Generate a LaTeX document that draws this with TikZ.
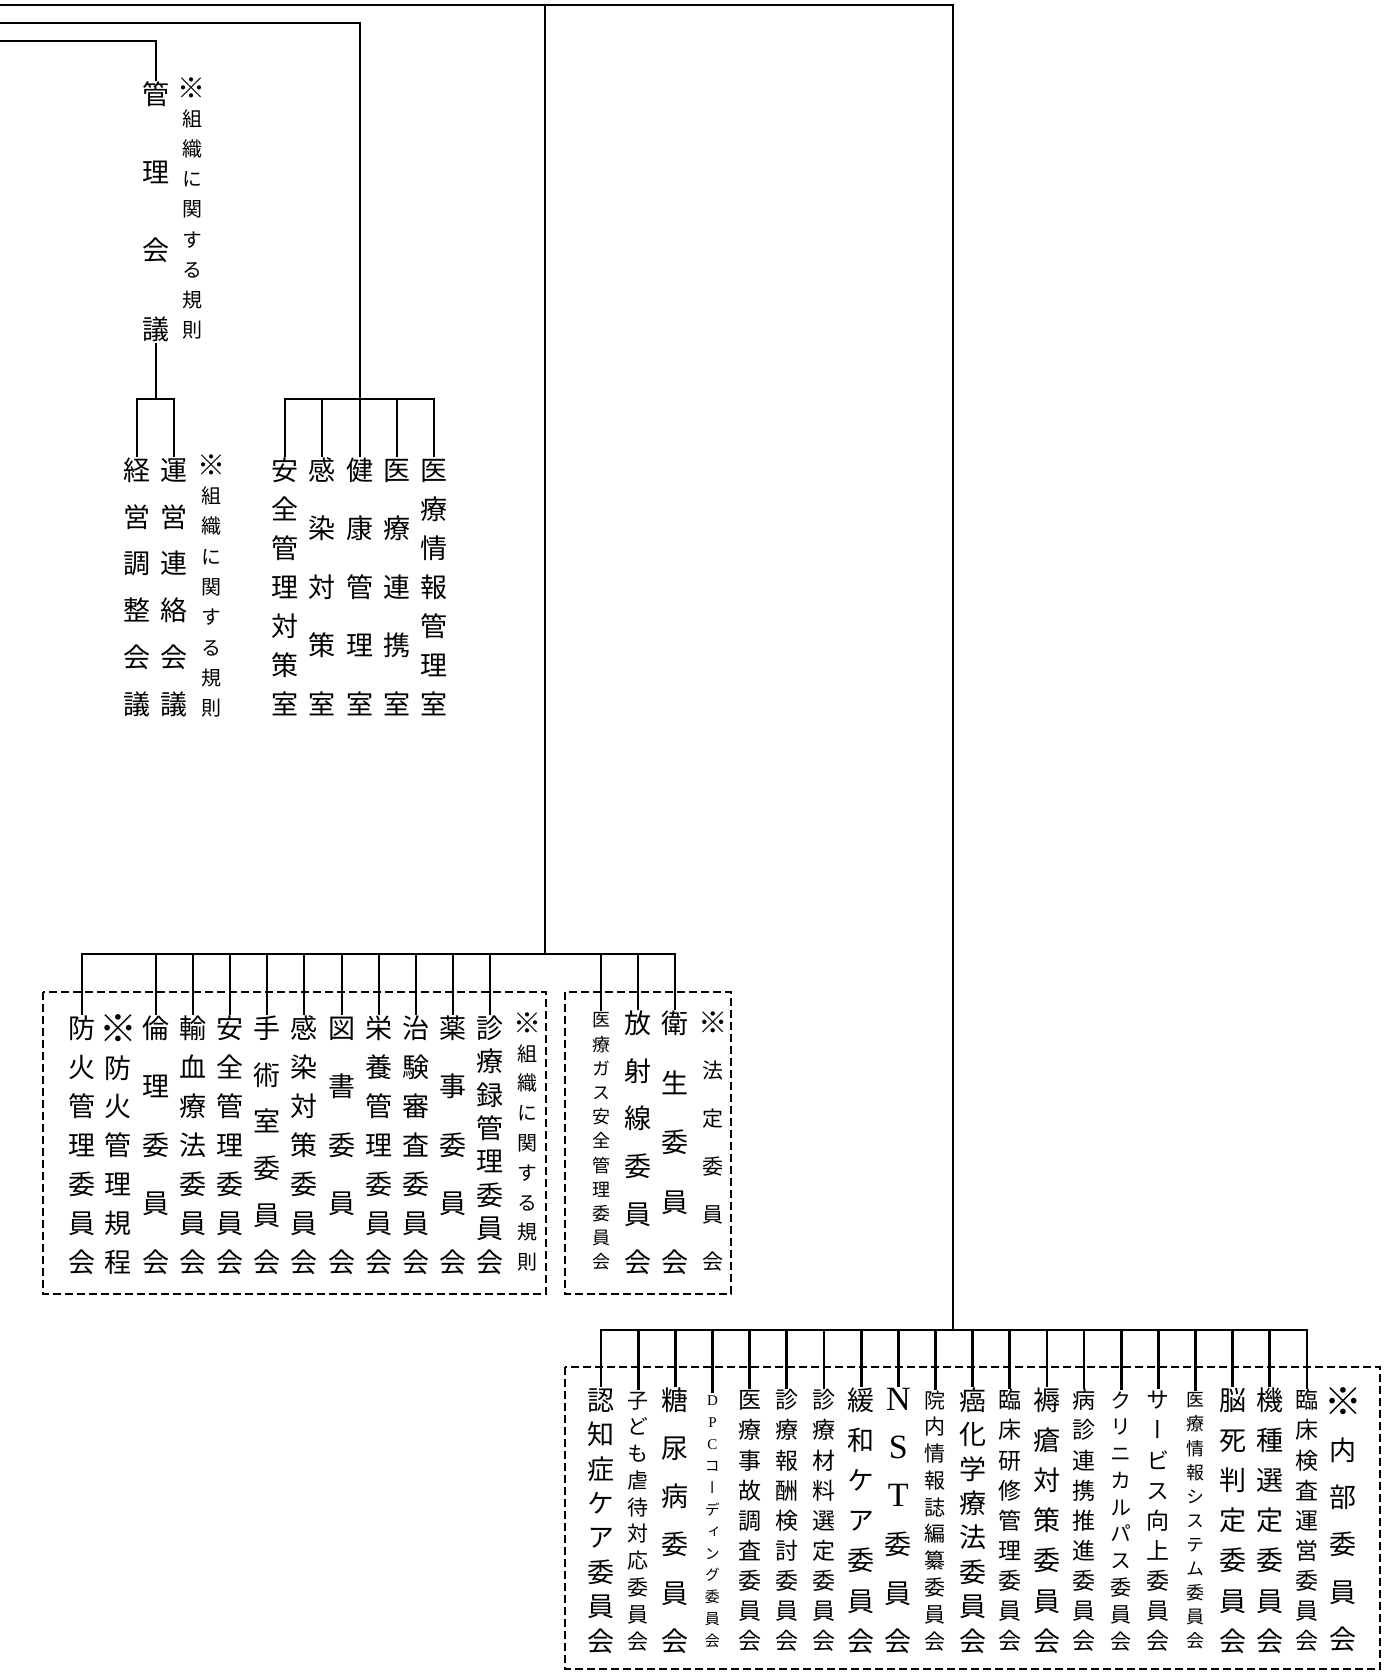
\documentclass[tikz,border=0pt]{standalone}
\usepackage{fontspec}
\usepackage{graphicx}
\setmainfont{Noto Sans CJK JP}[RawFeature=+vert]
\newfontfamily\latin{Liberation Serif}
\usepackage{tikz}
\makeatletter
\newcommand\tate[2]{\vbox to \dimexpr#2pt/2+0.88em\relax{\offinterlineskip\@tempswafalse
  \@tfor\tatechar:=#1\do{\if@tempswa\vfill\fi\@tempswatrue
    \hbox to 1em{\hss\rule[-0.12em]{0pt}{1em}\tatechar\hss}}}}
\makeatother
\newcommand\biglat[1]{{\latin\fontsize{17}{17}\selectfont #1}}
\newcommand\smlat[1]{{\latin #1}}
\newcommand\kome{\raisebox{-0.15em}{\scalebox{1.4}{※}}}

\begin{document}
\begin{tikzpicture}[x=0.5pt,y=-0.5pt,
  wire/.style={line width=1.4pt},
  dashbox/.style={line width=0.9pt,dash pattern=on 4pt off 2pt},
  tcol/.style={inner sep=0pt,outer sep=0pt},
  tbig/.style={tcol,font=\fontsize{13.5}{13.5}\selectfont},
  tnote/.style={tcol,font=\fontsize{10}{10}\selectfont}
]
  \useasboundingbox (0,0) rectangle (1387,1672);
  \coordinate (inA) at (0,5);
  \coordinate (inB) at (0,23);
  \coordinate (inC) at (0,41);
  \coordinate (hubK) at (156,399);
  \coordinate (hubR) at (360,399);
  \coordinate (hubM) at (545,954);
  \coordinate (hubB) at (953,1330);

  \node[tbig] (kanri) at (156,211.5) {\tate{管理会議}{235}};
  \node[tnote] (kanriNote) at (192,209) {\tate{{\kome}組織に関する規則}{242}};
  \node[tbig] (keiei) at (137,587) {\tate{経営調整会議}{234}};
  \node[tbig] (unei) at (174,587) {\tate{運営連絡会議}{234}};
  \node[tnote] (uneiNote) at (211,586.5) {\tate{{\kome}組織に関する規則}{243}};
  \foreach \x/\nm/\txt in {285/anzen/安全管理対策室,322/kansen/感染対策室,360/kenko/健康管理室,397/renkei/医療連携室,434/joho/医療情報管理室}
    \node[tbig] (\nm) at (\x,587) {\expandafter\tate\expandafter{\txt}{234}};

  \draw[wire] (inA) -| (hubB);
  \draw[wire] (inA -| hubM) -- (hubM);
  \draw[wire] (inB) -| (hubR);
  \draw[wire] (inC) -| (kanri.north);
  \draw[wire] (kanri.south) -- (hubK);
  \foreach \nm in {keiei,unei} \draw[wire] (\nm.north) |- (hubK);
  \foreach \nm in {anzen,kansen,kenko,renkei,joho} \draw[wire] (\nm.north) |- (hubR);

  \draw[dashbox] (43,992) rectangle (546,1294);
  \draw[dashbox] (565,992) rectangle (731,1294);
  \foreach \x/\nm/\txt in {82/bouka/防火管理委員会,156/rinri/倫理委員会,193/yuketsu/輸血療法委員会,230/anzenI/安全管理委員会,267/shujutsu/手術室委員会,304/kansenI/感染対策委員会,342/tosho/図書委員会,379/eiyo/栄養管理委員会,416/chiken/治験審査委員会,453/yakuji/薬事委員会,490/shinryoroku/診療録管理委員会}
  {\node[tbig] (\nm) at (\x,1145) {\expandafter\tate\expandafter{\txt}{234}};
   \draw[wire] (\nm.north) |- (hubM);}
  \node[tbig] (kitei) at (118,1145) {\tate{{\kome}防火管理規程}{234}};
  \node[tnote] (soshiki) at (527,1142.5) {\tate{{\kome}組織に関する規則}{239}};
  \node[tcol,font=\fontsize{9}{9}\selectfont] (gas) at (601,1141) {\tate{医療ガス安全管理委員会}{242}};
  \node[tbig] (hoshasen) at (638,1142.5) {\tate{放射線委員会}{239}};
  \node[tbig] (eisei) at (675,1142.5) {\tate{衛生委員会}{239}};
  \node[tcol,font=\fontsize{10.5}{10.5}\selectfont] (hotei) at (713,1142) {\tate{{\kome}法定委員会}{240}};
  \foreach \nm in {gas,hoshasen,eisei} \draw[wire] (\nm.north) |- (hubM);

  \draw[dashbox] (565,1367) rectangle (1380,1669);
  \foreach \nm/\fs/\txt [count=\i from 0] in {ninchi/13.5/認知症ケア委員会,gyakutai/10.5/子ども虐待対応委員会,tonyo/13.5/糖尿病委員会,dpc/7.5/{\smlat{D}}{\smlat{P}}{\smlat{C}}コーディング委員会,jiko/11.5/医療事故調査委員会,hoshu/11.5/診療報酬検討委員会,zairyo/11.5/診療材料選定委員会,kanwa/13.5/緩和ケア委員会,nst/13.5/{\biglat{N}}{\biglat{S}}{\biglat{T}}委員会,shi/10.5/院内情報誌編纂委員会,gan/13.5/癌化学療法委員会,kenshu/11.5/臨床研修管理委員会,jokuso/13.5/褥瘡対策委員会,byoshin/11.5/病診連携推進委員会,pasu/10.5/クリニカルパス委員会,sabisu/11.5/サービス向上委員会,iryojoho/9/医療情報システム委員会,noshi/13.5/脳死判定委員会,kishu/13.5/機種選定委員会,rinsho/11.5/臨床検査運営委員会}
  {\node[tcol,font=\fontsize{\fs}{\fs}\selectfont] (\nm) at ({601+37.16*\i},1520.5) {\expandafter\tate\expandafter{\txt}{241}};
   \draw[wire] (\nm.north) |- (hubB);}
  \node[tbig] (naibu) at (1343,1520.5) {\tate{{\kome}内部委員会}{238}};
\end{tikzpicture}
\end{document}
